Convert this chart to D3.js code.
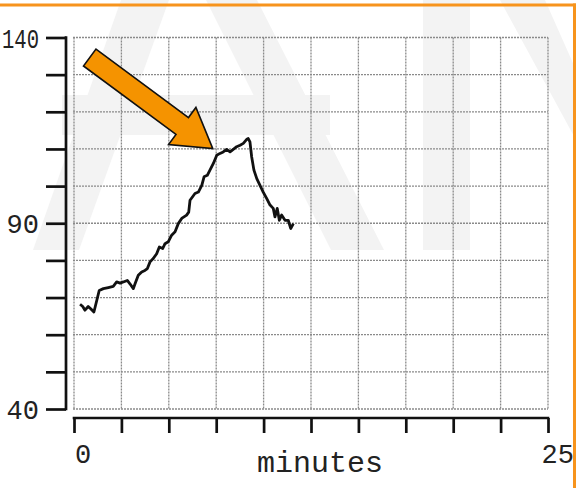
<!DOCTYPE html>
<html>
<head>
<meta charset="utf-8">
<script src="https://cdn.jsdelivr.net/npm/d3@7"></script>
<style>
  html, body { margin: 0; padding: 0; background: #fff; }
  svg { display: block; }
</style>
</head>
<body>
<svg id="chart" width="576" height="488"></svg>
<script>
// ---- data ----
const minutes = [0.32,0.46,0.58,0.75,0.88,1.05,1.20,1.33,1.55,1.81,2.07,2.25,2.43,2.60,2.81,2.95,3.13,3.22,3.39,3.57,3.74,3.87,4.01,4.18,4.36,4.50,4.68,4.80,4.97,5.15,5.33,5.50,5.68,5.94,6.05,6.12,6.38,6.56,6.74,6.86,7.03,7.17,7.35,7.53,7.70,7.87,8.05,8.23,8.40,8.58,8.76,8.93,9.11,9.19,9.28,9.37,9.49,9.64,9.81,9.98,10.16,10.34,10.51,10.60,10.72,10.83,10.95,11.13,11.30,11.43,11.57];
const values  = [68.2,67.6,66.6,67.6,67.0,66.1,69.2,71.9,72.4,72.7,73.0,74.2,73.9,74.2,74.6,73.7,72.4,73.7,76.0,76.9,77.3,77.8,79.6,80.5,81.8,83.6,83.2,84.5,85.0,86.8,87.7,89.9,91.3,92.2,93.0,96.2,98.0,98.4,100.2,102.5,102.9,104.3,106.1,108.3,108.8,109.2,109.9,109.2,109.9,110.6,111.0,111.5,112.6,112.8,111.9,107.9,104.3,102.0,100.2,98.4,96.7,94.9,94.0,91.7,94.0,90.8,92.2,90.8,90.8,88.6,89.9];
const xTicks = [0,2.5,5,7.5,10,12.5,15,17.5,20,22.5,25];
const yTicks = [40,50,60,70,80,90,100,110,120,130,140];
const xTickLabels = [{v:0,t:"0",anchor:"start"},{v:25,t:"25",anchor:"end"}];
const yTickLabels = [{v:140,t:"140"},{v:90,t:"90"},{v:40,t:"40"}];
const xTitle = "minutes";
// annotation arrow: tail and tip in data coordinates
const arrowTail = {m:0.83, v:134.6};
const arrowTip  = {m:7.32, v:110.1};

const svg = d3.select("#chart");
const x = d3.scaleLinear().domain([0,25]).range([74,548]);
const y = d3.scaleLinear().domain([40,140]).range([409,37.5]);

// faint watermark (background decoration)
const wm = svg.append("g").attr("fill","#f3f3f3");
[
  [[121,0],[169,0],[79,250],[33,250]],
  [[206,0],[257,0],[384,250],[331,250]],
  [[62,95],[330,95],[330,135],[62,135]],
  [[423,0],[470,0],[470,250],[423,250]],
  [[500,0],[545,0],[576,70],[576,140]]
].forEach(p => wm.append("polygon").attr("points", p.map(d=>d.join(",")).join(" ")));

// grid
const grid = svg.append("g").attr("stroke","#8a8a8a").attr("stroke-width",1.3).attr("stroke-dasharray","2,1");
grid.selectAll("line.h").data(yTicks).join("line").attr("class","h")
  .attr("x1", x(0)-1).attr("x2", x(25)).attr("y1", d=>y(d)).attr("y2", d=>y(d));
grid.selectAll("line.v").data(xTicks).join("line").attr("class","v")
  .attr("x1", d=>x(d)).attr("x2", d=>x(d)).attr("y1", y(140)).attr("y2", y(40));

// y axis
const yAxis = svg.append("g").attr("transform","translate(66,0)")
  .call(d3.axisLeft(y).tickValues(yTicks).tickSize(20).tickSizeOuter(0).tickFormat(""));
yAxis.selectAll("path,line").attr("stroke","#111").attr("stroke-width",2.7);
yAxis.select(".domain").attr("d", `M0,${y(140)-1.3}V${y(40)+1.3}`);

// x axis
const xAxis = svg.append("g").attr("transform","translate(0,418)")
  .call(d3.axisBottom(x).tickValues(xTicks).tickSize(15).tickSizeOuter(0).tickFormat(""));
xAxis.selectAll("path,line").attr("stroke","#111").attr("stroke-width",2.7);
xAxis.select(".domain").attr("d", `M${x(0)-1.3},0H${x(25)+1.3}`);

// tick labels
const font = "'Liberation Mono','Courier New',Courier,monospace";
svg.selectAll("text.yl").data(yTickLabels).join("text").attr("class","yl")
  .attr("x", 39).attr("y", d=>y(d.v)+10).attr("text-anchor","end")
  .attr("font-family", font).attr("font-size", 27).attr("fill","#222")
  .each(function(d){ if (d.t.length > 2) d3.select(this).attr("textLength", 37).attr("lengthAdjust","spacingAndGlyphs"); })
  .text(d=>d.t);
svg.selectAll("text.xl").data(xTickLabels).join("text").attr("class","xl")
  .attr("x", d=> d.anchor==="start" ? x(d.v)+1 : x(d.v)+26).attr("y", 463)
  .attr("text-anchor", d=>d.anchor)
  .attr("font-family", font).attr("font-size", 27).attr("fill","#222").text(d=>d.t);
svg.append("text").attr("x", 320).attr("y", 472).attr("text-anchor","middle")
  .attr("font-family", font).attr("font-size", 30).attr("fill","#222").text(xTitle);

// data line
const line = d3.line().x((d,i)=>x(minutes[i])).y(d=>y(d));
svg.append("path").datum(values).attr("d", line)
  .attr("fill","none").attr("stroke","#111").attr("stroke-width",2.8)
  .attr("stroke-linejoin","round");

// arrow
const tx = x(arrowTail.m), ty = y(arrowTail.v), hx = x(arrowTip.m), hy = y(arrowTip.v);
const L = Math.hypot(hx-tx, hy-ty), ang = Math.atan2(hy-ty, hx-tx)*180/Math.PI;
const sw = 10.5, hw = 23, hl = 38;
const pts = [[0,-sw],[L-hl,-sw],[L-hl,-hw],[L,0],[L-hl,hw],[L-hl,sw],[0,sw]];
svg.append("polygon")
  .attr("points", pts.map(p=>p.join(",")).join(" "))
  .attr("transform", `translate(${tx},${ty}) rotate(${ang})`)
  .attr("fill","#F59300").attr("stroke","#111").attr("stroke-width",1.6).attr("stroke-linejoin","miter");

// orange frame
svg.append("line").attr("x1",0).attr("x2",576).attr("y1",5).attr("y2",5).attr("stroke","#F7941D").attr("stroke-width",3);
svg.append("line").attr("x1",574.5).attr("x2",574.5).attr("y1",3.5).attr("y2",488).attr("stroke","#F7941D").attr("stroke-width",3);
</script>
</body>
</html>
